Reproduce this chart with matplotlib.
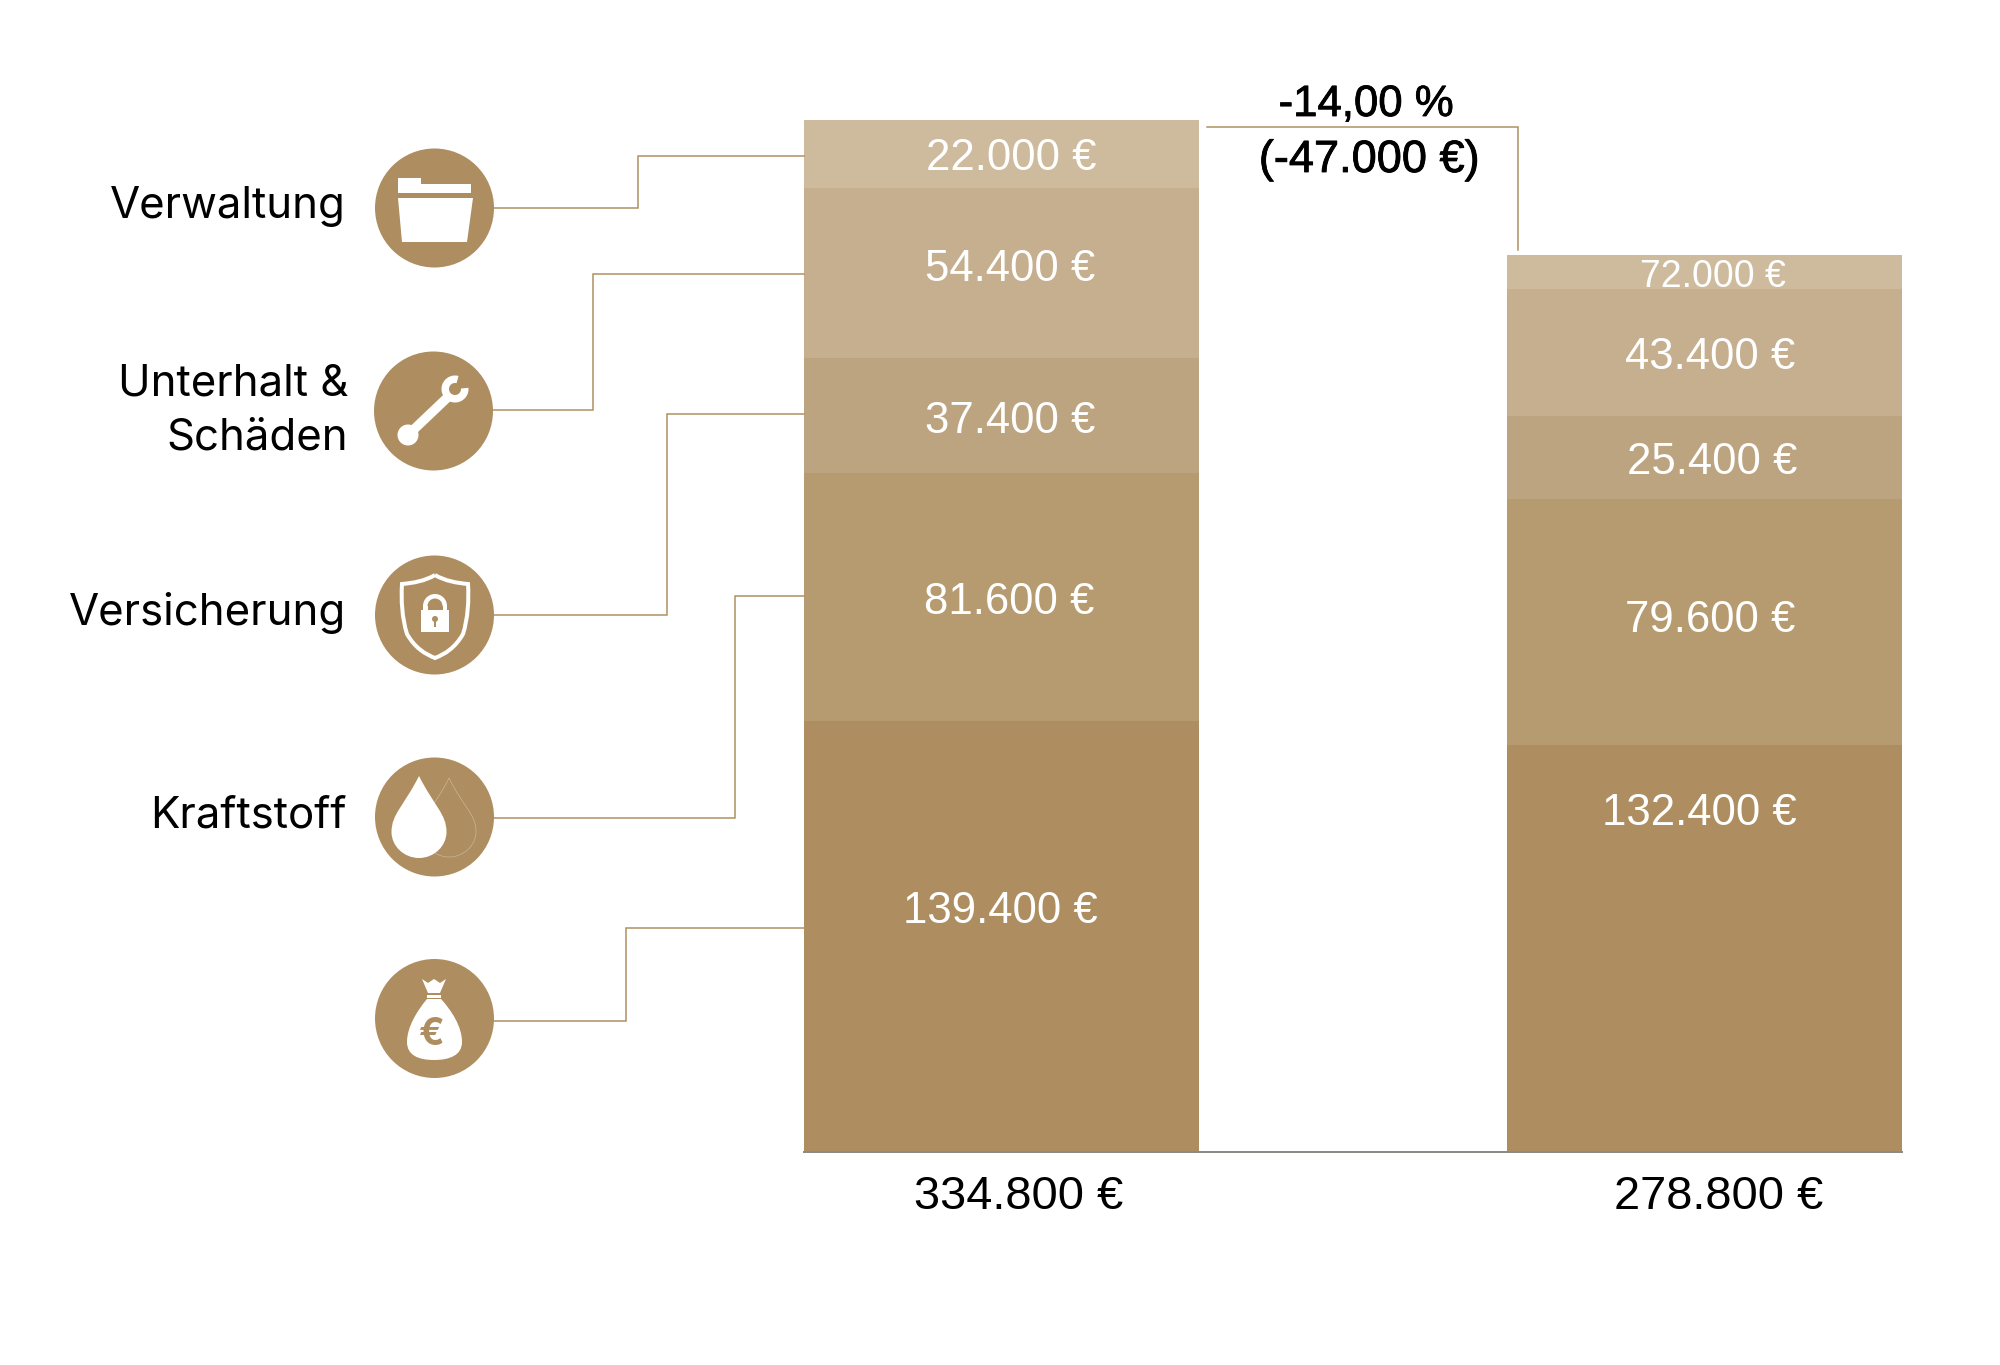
import matplotlib
matplotlib.use("Agg")
import matplotlib.pyplot as plt
import matplotlib.patheffects as pe
from matplotlib.patches import Circle, Polygon, PathPatch, Rectangle, Wedge
from matplotlib.path import Path

plt.rcParams['font.family'] = ['Inter', 'DejaVu Sans']

# segment sizes as drawn, bottom to top
left_values = [139700, 80600, 37200, 55200, 22100]
right_values = [132000, 80000, 26700, 41400, 10800]
left_labels = ["139.400 €", "81.600 €", "37.400 €", "54.400 €", "22.000 €"]
right_labels = ["132.400 €", "79.600 €", "25.400 €", "43.400 €", "72.000 €"]
totals = ["334.800 €", "278.800 €"]
colors = ["#AE8E60", "#B69B70", "#BDA480", "#C5AF8F", "#CEBB9E"]
categories = ["Verwaltung", "Unterhalt &", "Schäden", "Versicherung", "Kraftstoff"]

GOLD = "#AE8E60"
LINE = "#AE8E60"
VALUE_FONT = ['Liberation Sans', 'DejaVu Sans']
W, H = 2000, 1365
px = 0.72  # one pixel in points at dpi 100

fig = plt.figure(figsize=(W / 100, H / 100), dpi=100, facecolor="white")

# bars
ax = fig.add_axes([804 / W, 1 - 1152 / H, 1098.5 / W, 1032 / H])
bottom = 0
for v, c in zip(left_values, colors):
    ax.bar(0, v, bottom=bottom, width=395 / 703, color=c, linewidth=0)
    bottom += v
bottom = 0
for v, c in zip(right_values, colors):
    ax.bar(1, v, bottom=bottom, width=395 / 703, color=c, linewidth=0)
    bottom += v
ax.set_xlim(-197.5 / 703, 1 + 198 / 703)
ax.set_ylim(0, sum(left_values))
ax.set_xticks([])
ax.set_yticks([])
ax.patch.set_alpha(0)
for s in ["top", "left", "right"]:
    ax.spines[s].set_visible(False)
ax.spines["bottom"].set_color("#8c8a84")
ax.spines["bottom"].set_linewidth(2 * px)

# overlay in pixel coordinates for icons, connectors and text
ov = fig.add_axes([0, 0, 1, 1])
ov.set_xlim(0, W)
ov.set_ylim(H, 0)
ov.axis("off")
ov.patch.set_alpha(0)

# connectors
connectors = [
    (208, 638, 156), (410, 593, 274), (615, 667, 413.5), (818, 735, 596), (1021, 626, 928),
]
for y0, xm, y1 in connectors:
    ov.plot([480, xm, xm, 804], [y0, y0, y1, y1], color=LINE, lw=1.5 * px, solid_joinstyle="miter")
ov.plot([1207, 1518, 1518], [126.5, 126.5, 250], color=LINE, lw=1.5 * px, solid_joinstyle="miter")

# icon discs
centers = [(434.5, 208), (433.5, 411), (434.5, 615), (434.5, 817), (434.5, 1018.5)]
for cx, cy in centers:
    ov.add_patch(Circle((cx, cy), 59.5, color=GOLD, lw=0, zorder=3))

W_KW = dict(facecolor="white", edgecolor="none", zorder=4)

# folder
ov.add_patch(Polygon([(398, 178), (421, 178), (421, 184), (471, 184), (471, 193), (398, 193)], **W_KW))
ov.add_patch(Polygon([(398, 198), (473, 198), (467, 242), (402, 242)], **W_KW))

# wrench
ov.add_patch(Circle((408, 435), 10.5, **W_KW))
ov.plot([408, 449], [435, 396], color="white", lw=9.5 * px, zorder=4, solid_capstyle="butt")
ov.add_patch(Wedge((455, 389), 13.5, -5, 285, width=7.5, **W_KW))

# shield with lock
shield = Path(
    [(435, 575), (425, 581), (413, 583), (402, 584), (401, 600), (402, 618), (407, 634),
     (415, 648), (425, 654), (435, 658), (445, 654), (455, 648), (463, 634), (468, 618),
     (469, 600), (468, 584), (457, 583), (445, 581), (435, 575)],
    [Path.MOVETO] + [Path.CURVE4] * 18)
ov.add_patch(PathPatch(shield, facecolor="none", edgecolor="white", lw=4 * px, zorder=4))
ov.add_patch(Rectangle((421, 610), 28, 22, **W_KW))
ov.add_patch(Wedge((435, 606), 12, 180, 360, width=4.5, **W_KW))
ov.add_patch(Rectangle((423, 606), 4.5, 6, **W_KW))
ov.add_patch(Rectangle((442.5, 606), 4.5, 6, **W_KW))
ov.add_patch(Circle((435, 619), 3, color=GOLD, lw=0, zorder=5))
ov.add_patch(Rectangle((433.8, 619), 2.4, 8, color=GOLD, lw=0, zorder=5))


def drop(cx, tip, mid, bot, r):
    return Path(
        [(cx, tip), (cx - r * 0.55, tip + 30), (cx - r, mid - 18), (cx - r, mid),
         (cx - r, bot - 12), (cx - r * 0.55, bot), (cx, bot),
         (cx + r * 0.55, bot), (cx + r, bot - 12), (cx + r, mid),
         (cx + r, mid - 18), (cx + r * 0.55, tip + 30), (cx, tip)],
        [Path.MOVETO] + [Path.CURVE4] * 12)


# fuel drops
ov.add_patch(PathPatch(drop(449, 778, 832, 857, 27), facecolor="none", edgecolor="#CDBBA0", lw=0.6 * px, zorder=4))
ov.add_patch(PathPatch(drop(419, 776, 832, 858, 27.5), **W_KW))

# money bag
ov.add_patch(Polygon([(422, 979), (428, 983), (434, 979), (440, 983), (446, 979), (440, 993), (428, 993)], **W_KW))
ov.add_patch(Rectangle((427, 995), 14, 2.5, **W_KW))
bag = Path(
    [(427, 999), (441, 999), (441, 999), (441, 999),
     (452, 1011), (462, 1027), (462, 1042),
     (462, 1055), (450, 1060), (434, 1060),
     (418, 1060), (407, 1055), (407, 1042),
     (407, 1027), (417, 1011), (427, 999), (427, 999)],
    [Path.MOVETO] + [Path.CURVE4] * 15 + [Path.LINETO])
ov.add_patch(PathPatch(bag, **W_KW))
ov.text(432, 1035, "€", color=GOLD, fontsize=27, fontweight="bold", ha="center", va="center", zorder=5)

# category labels
label_pos = [(346, 218), (348, 395), (348, 449), (346, 625), (347, 828)]
for t, (x, y) in zip(categories, label_pos):
    ov.text(x, y, t, fontsize=31.5, color="black", ha="right", va="baseline")

# values
left_pos = [(1000, 907), (1009, 598), (1010, 417), (1010, 265), (1011, 154)]
for t, (x, y) in zip(left_labels, left_pos):
    ov.text(x, y, t, fontsize=31.5, color="white", ha="center", va="center_baseline", family=VALUE_FONT)
right_pos = [(1699, 809), (1710, 616), (1712, 458), (1710, 353), (1713, 273)]
right_size = [31.5, 31.5, 31.5, 31.5, 27]
for t, (x, y), s in zip(right_labels, right_pos, right_size):
    ov.text(x, y, t, fontsize=s, color="white", ha="center", va="center_baseline", family=VALUE_FONT)

thick = [pe.withStroke(linewidth=0.6, foreground="black")]
ov.text(1019, 1192, totals[0], fontsize=33.8, color="black", ha="center", va="center_baseline", family=VALUE_FONT)
ov.text(1719, 1192, totals[1], fontsize=33.8, color="black", ha="center", va="center_baseline", family=VALUE_FONT)
ov.text(1366, 100, "-14,00 %", fontsize=31.5, color="black", ha="center", va="center_baseline",
        family=VALUE_FONT, path_effects=thick)
ov.text(1369, 156, "(-47.000 €)", fontsize=32.5, color="black", ha="center", va="center_baseline",
        family=VALUE_FONT, path_effects=thick)

fig.savefig("out.png", dpi=100)
